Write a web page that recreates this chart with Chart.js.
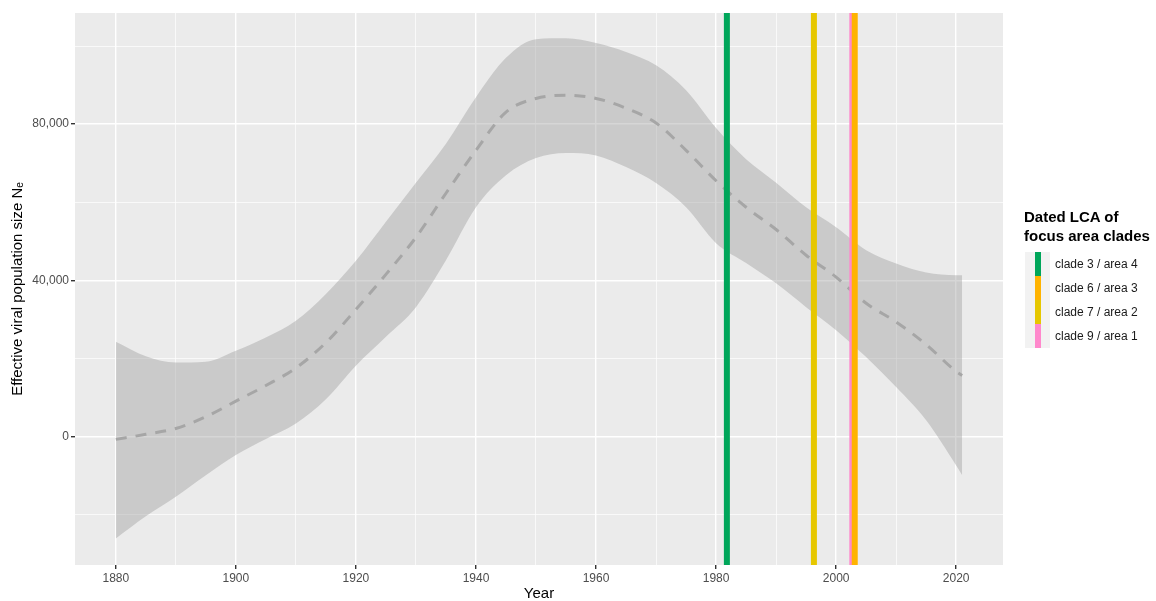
<!DOCTYPE html>
<html>
<head>
<meta charset="utf-8">
<script src="https://cdn.jsdelivr.net/npm/chart.js@4.4.1/dist/chart.umd.min.js"></script>
<style>
    body { margin: 0; background: #fff; font-family: "Liberation Sans", Arial, sans-serif; }
    #wrap { position: relative; width: 1156px; height: 601px; }
    #legend { position: absolute; left: 1024px; top: 207px; color: #000; }
    #legend .ttl { font-weight: bold; font-size: 15px; line-height: 19px; }
    #legend .keys { margin-top: 7px; }
    #legend .row { height: 24px; display: flex; align-items: center; }
    #legend .key { width: 25px; height: 24px; background: #F2F2F2; position: relative; margin-left: 1px; }
    #legend .key span { position: absolute; left: 10px; top: 0; width: 6px; height: 24px; }
    #legend .lab { font-size: 12px; color: #1A1A1A; margin-left: 5px; }
</style>
</head>
<body>
<div id="wrap">
    <canvas id="ne_chart" width="1156" height="601"></canvas>
    <div id="legend">
        <div class="ttl">Dated LCA of<br>focus area clades</div>
        <div class="keys" id="legend_keys"></div>
    </div>
</div>
<script>
// smoothed Ne curve
var years = [1880, 1885, 1890, 1895, 1900, 1905, 1910, 1915, 1920, 1925, 1930, 1935, 1940, 1945, 1950,
             1955, 1960, 1965, 1970, 1975, 1980, 1985, 1990, 1995, 2000, 2005, 2010, 2015, 2020, 2021];
var ne_mean = [-800, 500, 2000, 5000, 9000, 13000, 17500, 24000, 32500, 41500, 51000, 62300, 73300, 83100, 86600,
               87400, 86600, 84100, 80300, 73300, 65500, 58700, 53000, 46400, 40800, 34100, 29300, 23500, 16600, 15600];
var ne_upper = [24200, 20500, 18900, 19100, 21900, 25300, 29600, 36500, 45000, 55000, 65000, 75000, 86900, 97000, 101800,
                102000, 100800, 98500, 95100, 88700, 79000, 71000, 65000, 58700, 53600, 47700, 44300, 42000, 41300, 41300];
var ne_lower = [-26200, -20500, -15500, -10000, -4800, -700, 3300, 9500, 18100, 25500, 33100, 45100, 58700, 66900, 71300,
                72600, 72000, 69000, 64900, 58700, 49500, 44400, 39200, 33100, 27200, 20300, 12600, 4100, -7500, -10000];

// dated LCA of the focus area clades
var clade_labels = ['clade 3 / area 4', 'clade 6 / area 3', 'clade 7 / area 2', 'clade 9 / area 1'];
var clade_years = [1981.8, 2003.1, 1996.3, 2002.7];
var clade_colors = ['#00A65A', '#FFB300', '#E6C700', '#FF88CC'];

// axis ticks (labels only on every second one, like ggplot major/minor)
var x_ticks = [1880, 1890, 1900, 1910, 1920, 1930, 1940, 1950, 1960, 1970, 1980, 1990, 2000, 2010, 2020];
var y_ticks = [-20000, 0, 20000, 40000, 60000, 80000, 100000];

var x_min = 1873.2, x_max = 2027.8;
var y_min = -33000, y_max = 108500;

function pts(ys) {
    return years.map(function (yr, i) { return {x: yr, y: ys[i]}; });
}

// legend (html so the keys look like the ggplot ones)
var keys = document.getElementById('legend_keys');
clade_labels.forEach(function (lab, i) {
    keys.innerHTML += '<div class="row"><div class="key"><span style="background:' + clade_colors[i] +
        '"></span></div><div class="lab">' + lab + '</div></div>';
});

var datasets = [];
// vlines on top: orange over pink, then the rest
[1, 3, 2, 0].forEach(function (i) {
    datasets.push({
        type: 'line',
        data: [{x: clade_years[i], y: y_min - 10000}, {x: clade_years[i], y: y_max + 10000}],
        borderColor: clade_colors[i],
        borderWidth: 6,
        pointRadius: 0,
        fill: false,
        clip: 0
    });
});
datasets.push({
    data: pts(ne_mean),
    borderColor: '#A6A6A6',
    borderWidth: 3,
    borderDash: [11, 9],
    pointRadius: 0,
    tension: 0.4,
    cubicInterpolationMode: 'monotone',
    fill: false
});
datasets.push({
    data: pts(ne_upper),
    borderWidth: 0,
    borderColor: 'rgba(0,0,0,0)',
    backgroundColor: 'rgba(153,153,153,0.4)',
    pointRadius: 0,
    cubicInterpolationMode: 'monotone',
    fill: '+1'
});
datasets.push({
    data: pts(ne_lower),
    borderWidth: 0,
    borderColor: 'rgba(0,0,0,0)',
    pointRadius: 0,
    cubicInterpolationMode: 'monotone',
    fill: false
});

var panel_bg = {
    id: 'panel_bg',
    beforeDraw: function (chart) {
        var a = chart.chartArea, ctx = chart.ctx;
        ctx.save();
        ctx.fillStyle = '#EBEBEB';
        ctx.fillRect(a.left, a.top, a.right - a.left, a.bottom - a.top);
        ctx.restore();
    }
};

var tick_font = {family: '"Liberation Sans", Arial, sans-serif', size: 12};
var title_font = {family: '"Liberation Sans", Arial, sans-serif', size: 15, lineHeight: 1};

function isMajorX(c) { return c.tick && c.tick.value % 20 === 0; }
function isMajorY(c) { return c.tick && c.tick.value % 40000 === 0; }

var myChart = new Chart(document.getElementById('ne_chart'), {
    type: 'line',
    data: {datasets: datasets},
    plugins: [panel_bg],
    options: {
        responsive: false,
        animation: false,
        layout: {padding: {top: 13, right: 153, left: 0, bottom: 0}},
        plugins: {legend: {display: false}, tooltip: {enabled: false}},
        scales: {
            x: {
                type: 'linear',
                min: x_min,
                max: x_max,
                afterFit: function (s) { s.height = 36; },
                afterBuildTicks: function (s) { s.ticks = x_ticks.map(function (v) { return {value: v}; }); },
                border: {display: false},
                grid: {
                    color: '#FFFFFF',
                    lineWidth: function (c) { return isMajorX(c) ? 1.4 : 0.7; },
                    tickColor: function (c) { return isMajorX(c) ? '#333333' : 'rgba(0,0,0,0)'; },
                    tickLength: 4
                },
                ticks: {
                    autoSkip: false,
                    maxRotation: 0,
                    padding: 2,
                    color: '#4D4D4D',
                    font: tick_font,
                    callback: function (v) { return v % 20 === 0 ? String(v) : ''; }
                },
                title: {
                    display: true,
                    text: 'Year',
                    color: '#000',
                    font: title_font,
                    padding: {top: 0, bottom: 0}
                }
            },
            y: {
                min: y_min,
                max: y_max,
                afterFit: function (s) { s.width = 75; },
                afterBuildTicks: function (s) { s.ticks = y_ticks.map(function (v) { return {value: v}; }); },
                border: {display: false},
                grid: {
                    color: '#FFFFFF',
                    lineWidth: function (c) { return isMajorY(c) ? 1.4 : 0.7; },
                    tickColor: function (c) { return isMajorY(c) ? '#333333' : 'rgba(0,0,0,0)'; },
                    tickLength: 4
                },
                ticks: {
                    autoSkip: false,
                    padding: 2,
                    color: '#4D4D4D',
                    font: tick_font,
                    callback: function (v) { return v % 40000 === 0 ? v.toLocaleString('en-US') : ''; }
                },
                title: {
                    display: true,
                    text: 'Effective viral population size N\u2091',
                    color: '#000',
                    font: title_font,
                    padding: {top: 10, bottom: 0}
                }
            }
        }
    }
});
</script>
</body>
</html>
